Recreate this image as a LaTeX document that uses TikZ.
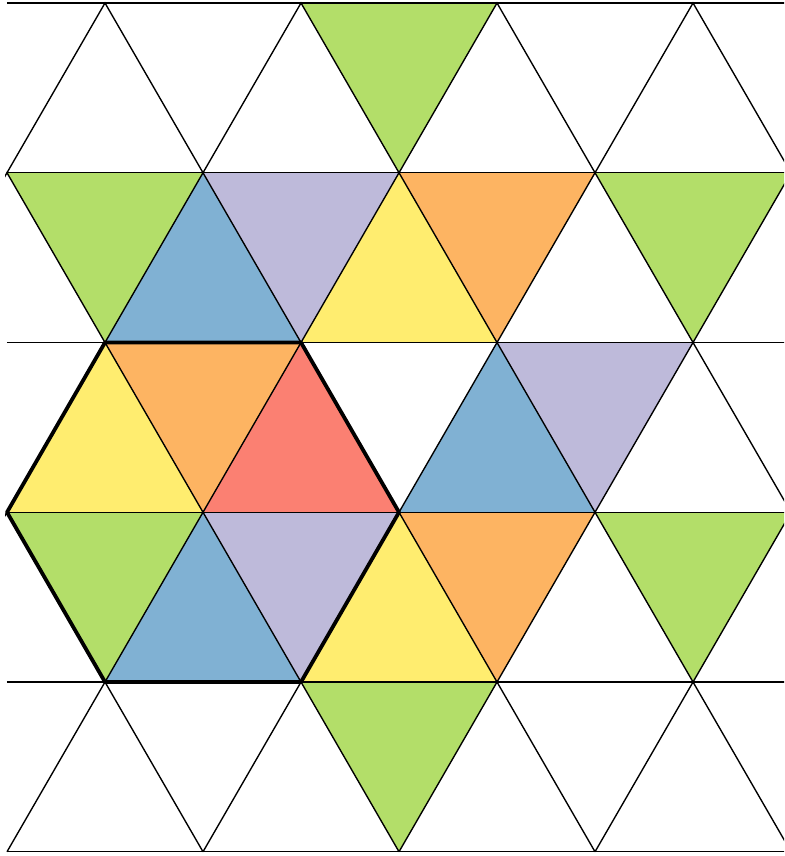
\documentclass[tikz,border=0pt]{standalone}
\usepackage{xcolor}
\usepackage{tikz}

\definecolor{cgreen}{HTML}{B3DE69}
\definecolor{cblue}{HTML}{80B1D3}
\definecolor{clav}{HTML}{BEBADA}
\definecolor{cyellow}{HTML}{FFED6F}
\definecolor{corange}{HTML}{FDB462}
\definecolor{cred}{HTML}{FB8072}

\begin{document}
\begin{tikzpicture}[x=1cm, y=1.7321cm]
\tikzstyle{cell}=[draw=black,line width=0.4pt]
\tikzstyle{hexline}=[draw=black,line width=1.1pt,line join=round]
\useasboundingbox (-0.0714,0.0177) rectangle (7.929,-5.025);
\begin{scope}
\clip (-0.02,0.1) rectangle (7.929,-5.1);
% coloured cells: centre column / strip / colour
\foreach \i/\j/\c in {4/0/cgreen,
  1/1/cgreen, 2/1/cblue, 3/1/clav, 4/1/cyellow, 5/1/corange, 7/1/cgreen,
  1/2/cyellow, 2/2/corange, 3/2/cred, 5/2/cblue, 6/2/clav,
  1/3/cgreen, 2/3/cblue, 3/3/clav, 4/3/cyellow, 5/3/corange, 7/3/cgreen,
  4/4/cgreen} {
  \pgfmathtruncatemacro\up{mod(\i+\j,2)}
  \ifnum\up=1
    \fill[\c] (\i,-\j) -- (\i-1,-\j-1) -- (\i+1,-\j-1) -- cycle;
  \else
    \fill[\c] (\i-1,-\j) -- (\i+1,-\j) -- (\i,-\j-1) -- cycle;
  \fi
}
% grid lines
\foreach \j in {0,...,5}
  \draw[cell] (0,-\j) -- (8,-\j);
\foreach \j in {0,...,4}
  \foreach \i in {0,...,8} {
    \pgfmathtruncatemacro\up{mod(\i+\j,2)}
    \ifnum\up=1
      \draw[cell] (\i-1,-\j-1) -- (\i,-\j) -- (\i+1,-\j-1);
    \fi
  }
\end{scope}
% the hexagon
\draw[hexline] (1,-2) -- (3,-2) -- (4,-3) -- (3,-4) -- (1,-4) -- (0,-3) -- cycle;
\end{tikzpicture}
\end{document}
